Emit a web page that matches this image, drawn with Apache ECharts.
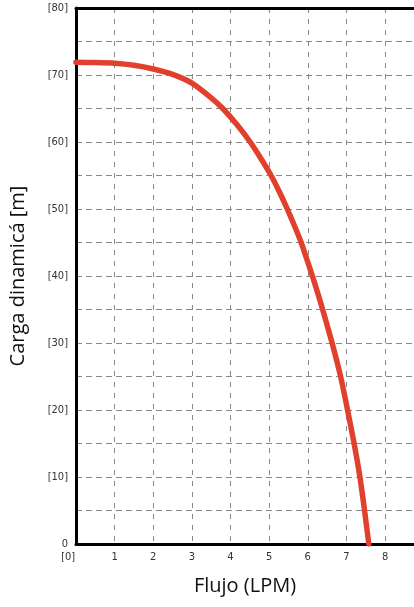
<!DOCTYPE html>
<html>
<head>
<meta charset="utf-8">
<script src="https://cdn.jsdelivr.net/npm/echarts@6/dist/echarts.min.js"></script>
<style>
html,body{margin:0;padding:0;background:#fff;}
#c{width:414px;height:607px;}
</style>
</head>
<body>
<div id="c"></div>
<script>
var flow = [0, 0.5, 1, 1.5, 2, 2.5, 3, 3.5, 3.8, 4.18, 4.51, 4.79, 5.05, 5.27, 5.47, 5.655, 5.83, 5.975, 6.12, 6.255, 6.385, 6.63, 6.85, 7.03, 7.2, 7.35, 7.47, 7.58];
var head = [71.9, 71.85, 71.75, 71.45, 70.9, 70.1, 68.8, 66.6, 65, 62.5, 60, 57.5, 55, 52.5, 50, 47.5, 45, 42.5, 40, 37.5, 35, 30, 25, 20, 15, 10, 5, 0];
var xTitle = 'Flujo (LPM)';
var yTitle = 'Carga dinamicá [m]';

var pts = flow.map(function (f, i) { return [f, head[i]]; });
var labelFont = "'Liberation Sans Narrow','DejaVu Sans Condensed','Open Sans',sans-serif";
var chart = echarts.init(document.getElementById('c'));
chart.setOption({
  animation: false,
  grid: { left: 75, right: 0, top: 8, bottom: 63 },
  xAxis: [{
    type: 'value', min: 0, max: 8.75, interval: 1,
    name: xTitle, nameLocation: 'middle', nameGap: 32,
    nameTextStyle: { fontFamily: "'Open Sans',sans-serif", fontSize: 20, color: '#111' },
    axisLine: { show: true, lineStyle: { color: '#000', width: 3 } },
    axisTick: { show: false },
    axisLabel: { showMaxLabel: false, margin: 8, fontFamily: labelFont, fontSize: 11, color: '#333',
      formatter: function (v) { return v === 0 ? '[0]     ' : String(v); } },
    splitLine: { show: true, lineStyle: { color: '#888', width: 1, type: [5, 6] } }
  }, {
    type: 'value', position: 'top', min: 0, max: 8.75,
    axisLine: { show: true, lineStyle: { color: '#000', width: 3 } },
    axisTick: { show: false }, axisLabel: { show: false }, splitLine: { show: false }
  }],
  yAxis: {
    type: 'value', min: 0, max: 80, interval: 5,
    name: yTitle, nameLocation: 'middle', nameGap: 48,
    nameTextStyle: { fontFamily: "'Open Sans',sans-serif", fontSize: 20, color: '#111' },
    axisLine: { show: true, lineStyle: { color: '#000', width: 3 } },
    axisTick: { show: false },
    axisLabel: { margin: 8, fontFamily: labelFont, fontSize: 11, color: '#333',
      formatter: function (v) { return v % 10 !== 0 ? '' : (v === 0 ? '0' : '[' + v + ']'); } },
    splitLine: { show: true, lineStyle: { color: '#888', width: 1, type: [6, 4] } }
  },
  series: [{
    type: 'line', data: pts, smooth: 0.2, showSymbol: false,
    lineStyle: { color: '#e0402c', width: 5.5, join: 'round', cap: 'round' }
  }]
});
</script>
</body>
</html>
